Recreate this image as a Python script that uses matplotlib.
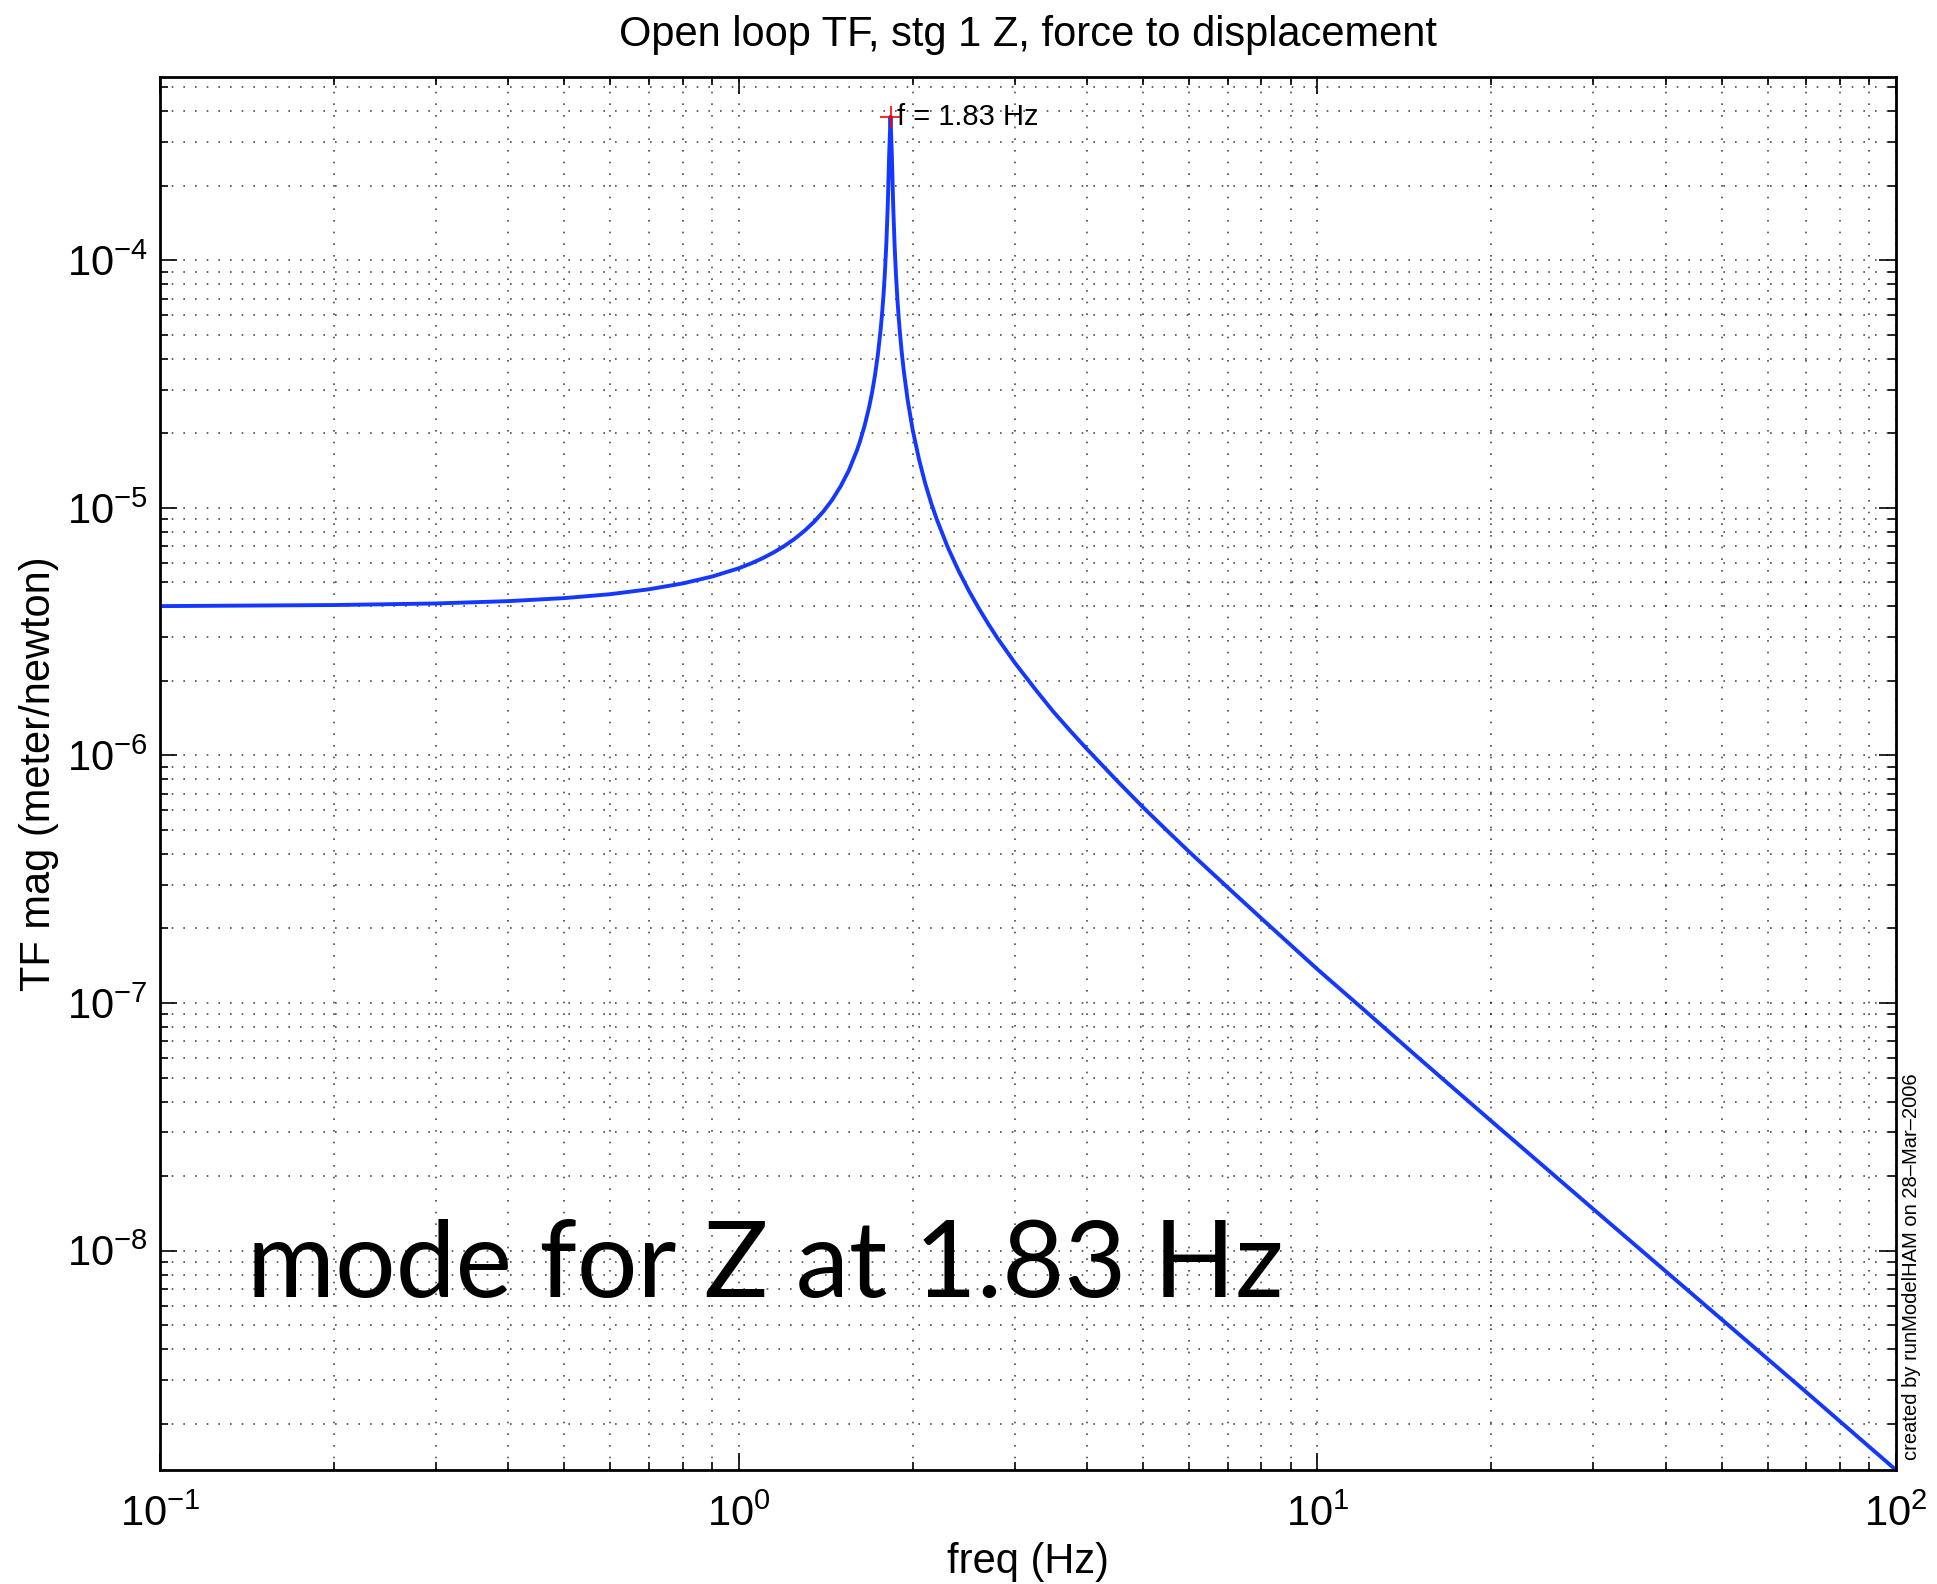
import matplotlib
import matplotlib.pyplot as plt
from matplotlib.ticker import LogLocator, NullFormatter

matplotlib.use('Agg')

plt.rcParams['font.family'] = ['Liberation Sans', 'DejaVu Sans']
plt.rcParams['mathtext.fontset'] = 'custom'
plt.rcParams['mathtext.rm'] = 'Liberation Sans'
plt.rcParams['mathtext.it'] = 'Liberation Sans'
plt.rcParams['mathtext.bf'] = 'Liberation Sans'

# transfer function magnitude (m/N vs Hz)
freq_hz = [0.1, 0.2, 0.3, 0.4, 0.5, 0.6, 0.7, 0.8, 0.9, 1.0,
           1.05, 1.1, 1.15, 1.2, 1.25, 1.3, 1.35, 1.4, 1.45, 1.5,
           1.55, 1.6, 1.62, 1.65, 1.68, 1.7, 1.72, 1.74, 1.76, 1.77,
           1.78, 1.79, 1.80, 1.81, 1.82, 1.83, 1.84, 1.85, 1.86, 1.87,
           1.88, 1.89, 1.90, 1.915, 1.93, 1.96, 2.0, 2.05, 2.1, 2.15,
           2.2, 2.3, 2.4, 2.5, 2.6, 2.7, 2.8, 3.0, 3.25, 3.5,
           3.75, 4.0, 4.5, 5.0, 5.5, 6.0, 7.0, 8.0, 10.0, 12.0,
           15.0, 20.0, 30.0, 50.0, 70.0, 100.0]
mag_m_per_n = [4.01e-6, 4.05e-6, 4.11e-6, 4.20e-6, 4.32e-6, 4.48e-6, 4.69e-6, 4.95e-6, 5.28e-6, 5.70e-6,
               5.96e-6, 6.26e-6, 6.61e-6, 7.02e-6, 7.50e-6, 8.08e-6, 8.78e-6, 9.65e-6, 1.075e-5, 1.22e-5,
               1.415e-5, 1.70e-5, 1.85e-5, 2.14e-5, 2.54e-5, 2.91e-5, 3.42e-5, 4.15e-5, 5.28e-5, 6.13e-5,
               7.29e-5, 9.00e-5, 1.17e-4, 1.66e-4, 2.65e-4, 3.80e-4, 2.63e-4, 1.64e-4, 1.15e-4, 8.80e-5,
               7.09e-5, 5.92e-5, 5.08e-5, 4.18e-5, 3.55e-5, 2.71e-5, 2.05e-5, 1.57e-5, 1.26e-5, 1.05e-5,
               8.98e-6, 6.90e-6, 5.56e-6, 4.62e-6, 3.93e-6, 3.40e-6, 2.98e-6, 2.37e-6, 1.86e-6, 1.50e-6,
               1.25e-6, 1.06e-6, 7.93e-7, 6.17e-7, 4.97e-7, 4.09e-7, 2.93e-7, 2.20e-7, 1.37e-7, 9.45e-8,
               5.97e-8, 3.33e-8, 1.47e-8, 5.27e-9, 2.68e-9, 1.30e-9]

peak_freq = 1.83
peak_mag = 3.80e-4

fig = plt.figure(figsize=(19.37, 15.84), dpi=100)
ax = fig.add_axes([0.0826, 0.072, 0.8962, 0.8794])

ax.loglog(freq_hz, mag_m_per_n, color='#1438ff', linewidth=2.8)

# peak marker + label
ax.plot([peak_freq], [peak_mag], '+', color='red', markersize=16, markeredgewidth=1.2)
ax.annotate(f"f = {peak_freq:.2f} Hz", xy=(peak_freq, peak_mag), xytext=(5, 0),
            textcoords='offset points', va='center', ha='left', fontsize=21)

ax.set_xlim(0.1, 100)
ax.set_ylim(mag_m_per_n[-1], 5.5e-4)

ax.xaxis.set_major_locator(LogLocator(base=10, numticks=10))
ax.xaxis.set_minor_locator(LogLocator(base=10, subs=range(2, 10), numticks=20))
ax.yaxis.set_major_locator(LogLocator(base=10, numticks=10))
ax.yaxis.set_minor_locator(LogLocator(base=10, subs=range(2, 10), numticks=20))
ax.xaxis.set_minor_formatter(NullFormatter())
ax.yaxis.set_minor_formatter(NullFormatter())

ax.tick_params(which='both', direction='in', top=True, right=True, width=1.2)
ax.tick_params(which='major', length=12, labelsize=30)
ax.tick_params(axis='x', which='major', pad=18)
ax.tick_params(axis='y', which='major', pad=9)
ax.tick_params(which='minor', length=6)
for s in ax.spines.values():
    s.set_linewidth(2)

# dotted grid, MATLAB style
ax.grid(True, which='both', linestyle=(0, (1, 6)), linewidth=1.2, color='black', alpha=0.7)

ax.set_title("Open loop TF, stg 1 Z, force to displacement", fontsize=30, pad=22)
ax.set_xlabel("freq (Hz)", fontsize=30)
ax.set_ylabel("TF mag (meter/newton)", fontsize=30)
ax.xaxis.set_label_coords(0.5, -0.052)
ax.yaxis.set_label_coords(-0.058, 0.5)

ax.text(0.05, 0.124, "mode for Z at 1.83 Hz", transform=ax.transAxes,
        fontsize=77, family='Lato', ha='left', va='baseline')

fig.text(0.9866, 0.0783, "created by runModelHAM on 28\u2013Mar\u20132006", rotation=90,
         ha='center', va='bottom', fontsize=14.5)

plt.savefig('out.png', dpi=100)
